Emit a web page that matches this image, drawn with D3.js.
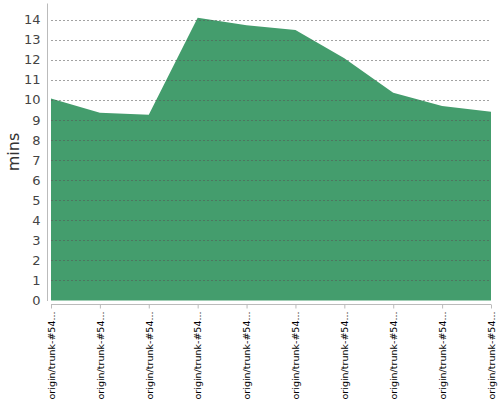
<!DOCTYPE html>
<html>
<head>
<meta charset="utf-8">
<script src="https://cdn.jsdelivr.net/npm/d3@7"></script>
<style>
  body { margin: 0; background: #fff; }
  svg { display: block; }
</style>
</head>
<body>
<div id="chart"></div>
<script>
var builds = ["origin/trunk-#54...", "origin/trunk-#54...", "origin/trunk-#54...", "origin/trunk-#54...",
              "origin/trunk-#54...", "origin/trunk-#54...", "origin/trunk-#54...", "origin/trunk-#54...",
              "origin/trunk-#54...", "origin/trunk-#54..."];
var minutes = [10.07, 9.36, 9.26, 14.09, 13.72, 13.48, 12.07, 10.35, 9.69, 9.41];
var yTicks = [0, 1, 2, 3, 4, 5, 6, 7, 8, 9, 10, 11, 12, 13, 14];

var width = 500, height = 400;
var svg = d3.select("#chart").append("svg").attr("width", width).attr("height", height);

// index based x, the labels are all the same
var xScale = d3.scalePoint().domain(d3.range(builds.length)).range([51, 491]);
var yScale = d3.scaleLinear().domain([0, 14.8]).range([300.5, 3.5]);

// area
var area = d3.area()
    .x(function(d, i){ return xScale(i); })
    .y0(yScale(0))
    .y1(function(d){ return yScale(d); });
svg.append("path").datum(minutes)
   .attr("d", area)
   .attr("fill", "#449d6d");

// grid lines on top of the area
svg.append("g").selectAll("line").data(yTicks.slice(1)).enter().append("line")
   .attr("x1", 51).attr("x2", 491)
   .attr("y1", function(d){ return Math.round(yScale(d)) + 0.5; })
   .attr("y2", function(d){ return Math.round(yScale(d)) + 0.5; })
   .attr("stroke", "#555").attr("stroke-opacity", 0.55)
   .attr("stroke-dasharray", "2,2");

// y axis
var yAxis = d3.axisLeft(yScale).tickValues(yTicks).tickSize(0).tickPadding(7);
var gy = svg.append("g").attr("transform", "translate(47.5,0)").call(yAxis);
gy.select(".domain").attr("stroke", "#bbb").attr("d", "M0,3.5V301");
gy.selectAll("text").attr("fill", "#444").style("font-family", "DejaVu Sans").style("font-size", "13px");

// x axis
var xAxis = d3.axisBottom(xScale).tickSize(4).tickFormat(function(i){ return builds[i]; });
var gx = svg.append("g").attr("transform", "translate(0,304.5)").call(xAxis);
gx.select(".domain").attr("stroke", "#bbb").attr("d", "M51,0H491");
gx.selectAll(".tick line").attr("stroke", "#bbb");
gx.selectAll("text")
  .attr("transform", "rotate(-90)")
  .attr("x", -7).attr("y", 0).attr("dy", "0.35em")
  .style("text-anchor", "end")
  .attr("fill", "#000")
  .style("font-family", "DejaVu Sans").style("font-size", "9.5px");

// y label
svg.append("text")
   .attr("transform", "translate(19,152) rotate(-90)")
   .style("text-anchor", "middle")
   .style("font-family", "DejaVu Sans").style("font-size", "16px")
   .attr("fill", "#333")
   .text("mins");
</script>
</body>
</html>
